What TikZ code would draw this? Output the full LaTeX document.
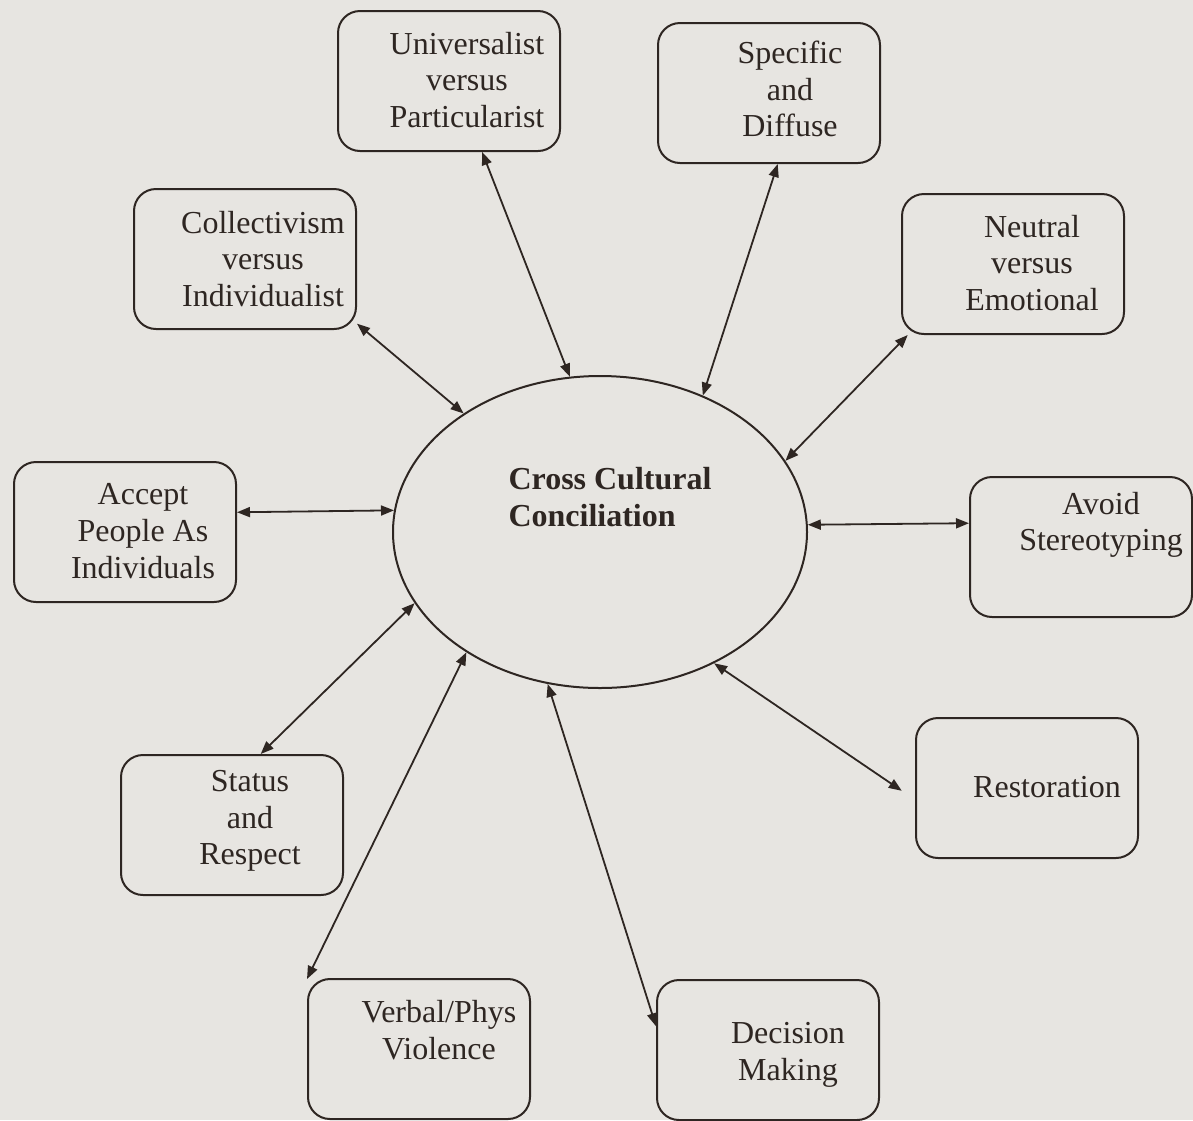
\documentclass[tikz,border=0pt]{standalone}
\usepackage{fontspec}
\setmainfont{Liberation Serif}
\usetikzlibrary{arrows.meta,calc,shapes.geometric}
\definecolor{ccInk}{HTML}{2E2622}
\definecolor{ccPaper}{HTML}{E7E5E1}

\tikzset{
  dimbox/.style={draw=ccInk,line width=1pt,rounded corners=11pt,
                 minimum width=111pt,minimum height=70pt,inner sep=0pt},
  dimtext/.style={text=ccInk,align=center,inner sep=0pt,
                  font=\fontsize{16}{18.3}\selectfont},
  link/.style={draw=ccInk,line width=0.9pt,
               {Triangle[length=6.5pt,width=5pt]}-{Triangle[length=6.5pt,width=5pt]}}
}

\begin{document}
\begin{tikzpicture}[x=0.5pt,y=-0.5pt]
  \fill[ccPaper] (0,0) rectangle (1193,1120);
  \useasboundingbox (0,0) rectangle (1193,1120);

  % centre
  \node[draw=ccInk,line width=1pt,ellipse,minimum width=207pt,
        minimum height=156pt,inner sep=0pt] (cc) at (600,532) {};
  \node[dimtext,align=left,font=\bfseries\fontsize{16}{18.5}\selectfont]
        (cc-txt) at (610,497) {Cross Cultural\\Conciliation};

  % dimensions round it
  \node[dimbox] (univ)  at (449,81)   {};
  \node[dimbox] (spec)  at (769,93)   {};
  \node[dimbox] (coll)  at (245,259)  {};
  \node[dimbox] (neut)  at (1013,264) {};
  \node[dimbox] (acc)   at (125,532)  {};
  \node[dimbox] (avoid) at (1081,547) {};
  \node[dimbox] (rest)  at (1027,788) {};
  \node[dimbox] (stat)  at (232,825)  {};
  \node[dimbox] (verb)  at (419,1049) {};
  \node[dimbox] (dec)   at (768,1050) {};

  \node[dimtext] (univ-txt)  at ($(univ)+(18,-1)$)   {Universalist\\versus\\Particularist};
  \node[dimtext] (spec-txt)  at ($(spec)+(21,-4)$)   {Specific\\and\\Diffuse};
  \node[dimtext] (coll-txt)  at ($(coll)+(18,0)$)    {Collectivism\\versus\\Individualist};
  \node[dimtext] (neut-txt)  at ($(neut)+(19,-1)$)   {Neutral\\versus\\Emotional};
  \node[dimtext] (acc-txt)   at ($(acc)+(18,-1)$)    {Accept\\People As\\Individuals};
  \node[dimtext] (avoid-txt) at ($(avoid)+(20,-22)$) {Avoid\\Stereotyping};
  \node[dimtext] (rest-txt)  at ($(rest)+(20,-1)$)   {Restoration};
  \node[dimtext] (stat-txt)  at ($(stat)+(18,-4)$)   {Status\\and\\Respect};
  \node[dimtext] (verb-txt)  at ($(verb)+(20,-19)$)  {Verbal/Phys\\Violence};
  \node[dimtext] (dec-txt)   at ($(dec)+(20,5)$)     {Decision\\Making};

  % links
  \foreach \b/\ba/\ca in {univ/-65/101, spec/-83.5/53.4, coll/-30.6/139.6,
                          neut/-146/21.8, acc/10/174.5, avoid/168/2.5,
                          stat/68/201.2, verb/148.4/222.6, dec/168/251.2}
    \draw[link] (cc.\ca) -- (\b.\ba);
  \draw[link,shorten >=8pt] (cc.-49.6) -- (rest.186.7);
\end{tikzpicture}
\end{document}
